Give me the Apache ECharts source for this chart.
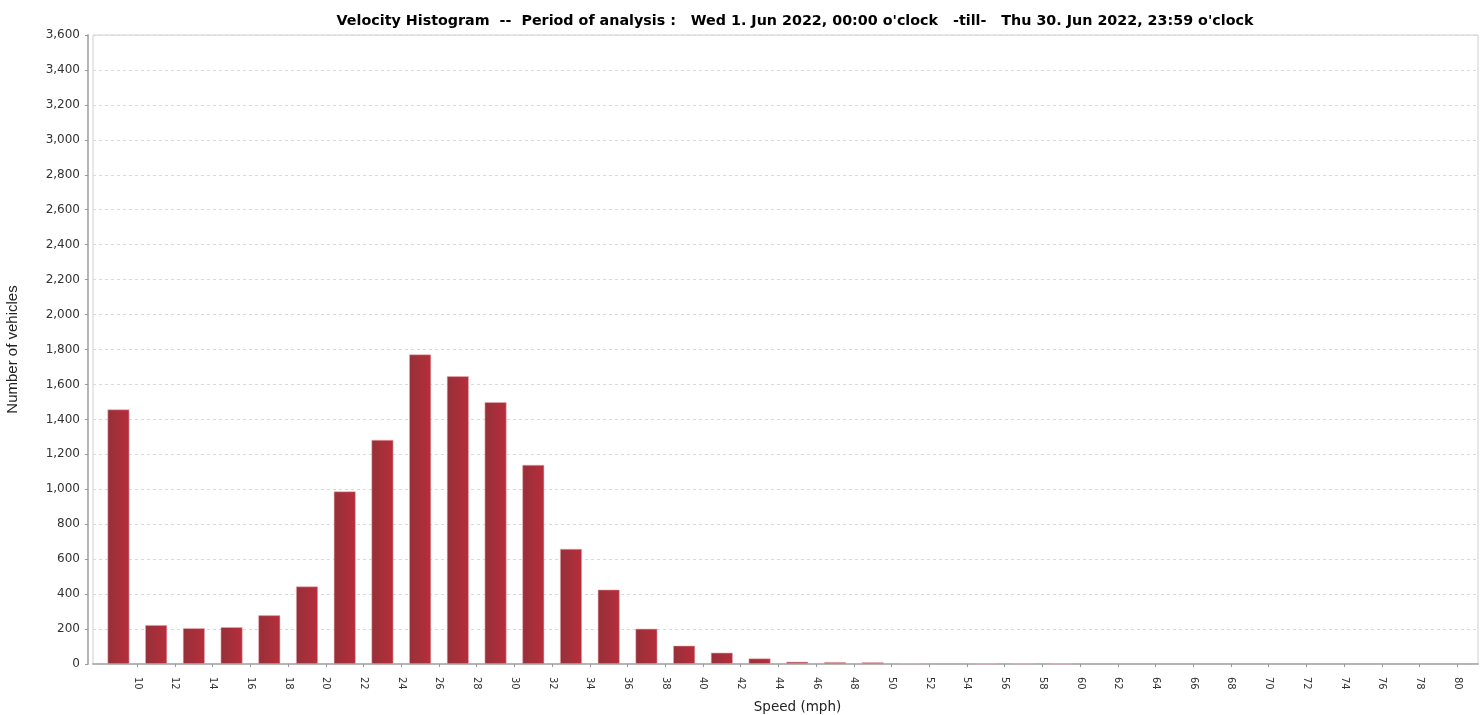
<!DOCTYPE html>
<html>
<head>
<meta charset="utf-8">
<script src="https://cdn.jsdelivr.net/npm/echarts@6/dist/echarts.min.js"></script>
<style>
html,body{margin:0;padding:0;background:#fff;}
#chart{width:1480px;height:715px;}
</style>
</head>
<body>
<div id="chart"></div>
<script>
// Bin midpoints (mph) — each bar covers a 2 mph bin
var binMid = [9, 11, 13, 15, 17, 19, 21, 23, 25, 27, 29, 31, 33, 35, 37, 39, 41, 43, 45, 47, 49, 51, 53, 55, 57, 59, 61, 63, 65, 67, 69, 71, 73, 75, 77, 79];
// Number of vehicles per bin
var counts = [1457, 223, 205, 211, 279, 444, 988, 1283, 1772, 1647, 1499, 1140, 659, 426, 202, 105, 65, 32, 13, 11, 10, 4, 0, 1, 1, 1, 0, 0, 0, 0, 0, 0, 0, 0, 0, 0];
// X tick labels (bin boundaries)
var xTicks = [10, 12, 14, 16, 18, 20, 22, 24, 26, 28, 30, 32, 34, 36, 38, 40, 42, 44, 46, 48, 50, 52, 54, 56, 58, 60, 62, 64, 66, 68, 70, 72, 74, 76, 78, 80];
var titleText = "Velocity Histogram  --  Period of analysis :   Wed 1. Jun 2022, 00:00 o'clock   -till-   Thu 30. Jun 2022, 23:59 o'clock";

var barData = binMid.map(function (m, i) { return [m, counts[i] > 0 ? counts[i] : '-']; });

var chart = echarts.init(document.getElementById('chart'), null, {renderer: 'canvas'});
chart.setOption({
  animation: false,
  backgroundColor: '#ffffff',
  title: {
    text: titleText,
    left: 790,
    top: 9,
    textAlign: 'center',
    textStyle: {fontFamily: 'DejaVu Sans, sans-serif', fontSize: 14.3, fontWeight: 'bold', color: '#000'}
  },
  grid: {
    left: 93, right: 2, top: 35, bottom: 51,
    show: true, borderColor: '#cfcfcf', borderWidth: 1, backgroundColor: '#fff',
    containLabel: false,
    outerBoundsMode: 'none'
  },
  xAxis: {
    type: 'value',
    min: 7.65,
    max: 81.1,
    offset: 4,
    name: 'Speed (mph)',
    nameLocation: 'middle',
    nameGap: 32,
    nameTextStyle: {fontFamily: 'DejaVu Sans, sans-serif', fontSize: 13.5, color: '#222', padding: [0, 0, 0, 24]},
    axisLine: {show: true, lineStyle: {color: '#b5b5b5', width: 2}},
    axisTick: {show: true, length: 3, lineStyle: {color: '#999'}, customValues: xTicks},
    axisLabel: {
      customValues: xTicks,
      rotate: -90,
      margin: 9,
      fontFamily: 'DejaVu Sans, sans-serif',
      fontSize: 10,
      color: '#333'
    },
    splitLine: {show: false}
  },
  yAxis: {
    type: 'value',
    min: 0,
    max: 3600,
    interval: 200,
    offset: 5,
    name: 'Number of vehicles',
    nameLocation: 'middle',
    nameGap: 68,
    nameTextStyle: {fontFamily: 'Liberation Sans Narrow, Liberation Sans, Arial, sans-serif', fontSize: 15, color: '#222'},
    axisLine: {show: true, lineStyle: {color: '#b5b5b5', width: 2}},
    axisTick: {show: true, length: 3, lineStyle: {color: '#999'}},
    axisLabel: {
      margin: 8,
      fontFamily: 'DejaVu Sans, sans-serif',
      fontSize: 12,
      color: '#333',
      formatter: function (v) { return v.toLocaleString('en-US'); }
    },
    splitLine: {show: true, lineStyle: {color: '#d9d9d9', type: [3, 3], width: 1}}
  },
  series: [{
    type: 'bar',
    data: barData,
    barWidth: 22,
    itemStyle: {
      color: new echarts.graphic.LinearGradient(0, 0, 1, 0, [
        {offset: 0, color: '#963039'},
        {offset: 1, color: '#b62e3b'}
      ]),
      borderColor: 'rgba(235,175,180,0.8)',
      borderWidth: 0.7
    }
  }]
});
</script>
</body>
</html>
